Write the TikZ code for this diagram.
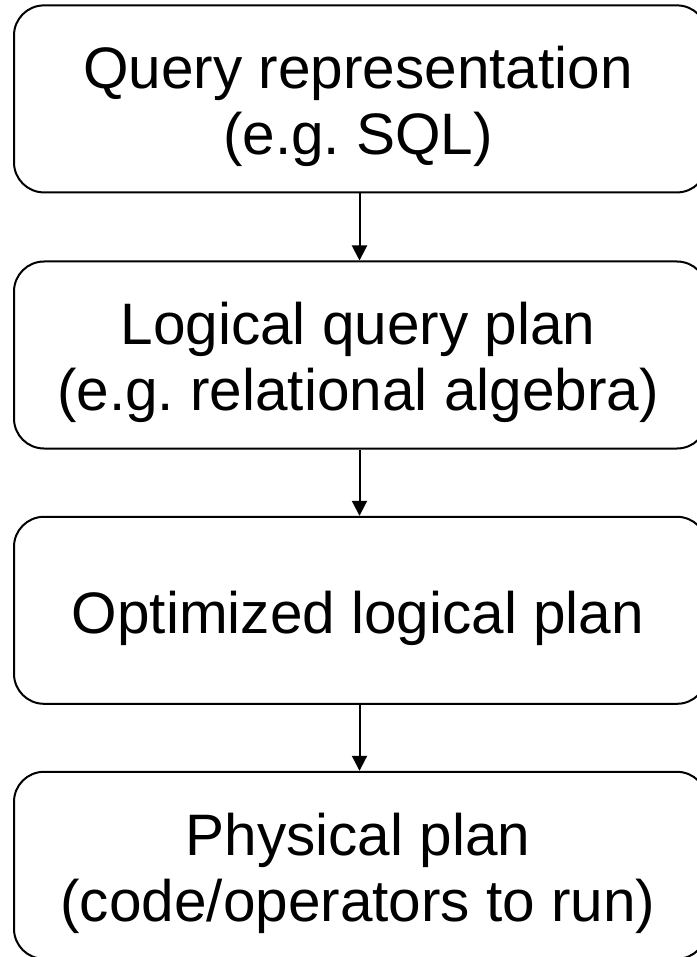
\documentclass[tikz,border=0pt]{standalone}
\usepackage{fontspec}
\setmainfont{Liberation Sans}
\usetikzlibrary{arrows.meta}
\begin{document}
\frenchspacing
\begin{tikzpicture}[x=1pt,y=-1pt,
  stagebox/.style={draw=black, line width=2pt, rounded corners=30pt, minimum width=693pt, minimum height=187pt, inner sep=0pt},
  lbl/.style={anchor=base, inner sep=0pt, font=\fontsize{58.5}{66}\selectfont},
  arr/.style={line width=2pt, -{Triangle[width=15pt,length=15pt]}}]
\useasboundingbox (0,0) rectangle (696,957);
\node[stagebox] (b1) at (360.5,98.9) {};
\node[stagebox] (b2) at (360.5,355) {};
\node[stagebox] (b3) at (360.5,610.3) {};
\node[stagebox] (b4) at (360.5,865.3) {};
\node[lbl] (t1a) at (358,89) {Query representation};
\node[lbl] (t1b) at (358,155) {(e.g. SQL)};
\node[lbl] (t2a) at (358,344) {Logical query plan};
\node[lbl] (t2b) at (358,410) {(e.g. relational algebra)};
\node[lbl] (t3a) at (358,633) {Optimized logical plan};
\node[lbl] (t4a) at (358,855) {Physical plan};
\node[lbl] (t4b) at (358,921) {(code/operators to run)};
\draw[arr] ([xshift=-1pt]b1.south) -- ([xshift=-1pt]b2.north);
\draw[arr] ([xshift=-1pt]b2.south) -- ([xshift=-1pt]b3.north);
\draw[arr] ([xshift=-1pt]b3.south) -- ([xshift=-1pt]b4.north);
\end{tikzpicture}
\end{document}
